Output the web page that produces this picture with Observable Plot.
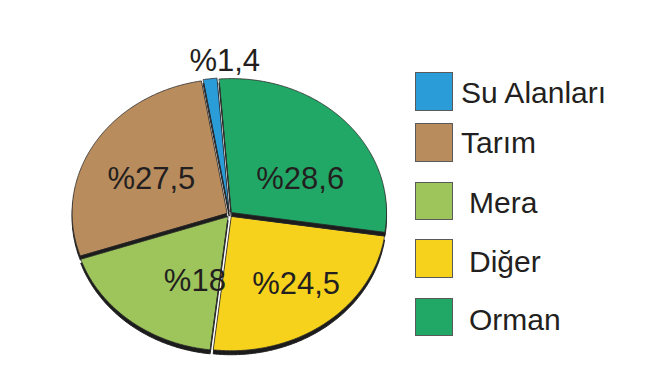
<!DOCTYPE html>
<html>
<head>
<meta charset="utf-8">
<script src="https://cdn.jsdelivr.net/npm/d3@7"></script>
<script src="https://cdn.jsdelivr.net/npm/@observablehq/plot@0.6"></script>
<style>
  html, body { margin: 0; padding: 0; background: #fff; }
  #wrap { position: relative; width: 656px; height: 373px; overflow: hidden; font-family: "Liberation Sans", Arial, Helvetica, sans-serif; }
  #wrap svg { position: absolute; left: 0; top: 0; }
  .sw { position: absolute; box-sizing: border-box; border: 1px solid #5a5a5a; }
  .lb { position: absolute; font-size: 30px; line-height: 30px; color: #231f20; white-space: nowrap; }
</style>
</head>
<body>
<div id="wrap"></div>
<script>
// ---- data ----
const categories = ["Su Alanları", "Tarım", "Mera", "Diğer", "Orman"];
const values = [1.4, 27.5, 18, 24.5, 28.6];
const colors = ["#2a9dd8", "#b98c5e", "#9dc55b", "#f6d21c", "#22a866"];

// ---- layout (not data) ----
const rotation = -4.5 * Math.PI / 180;   // start angle offset
const explode = 2.8;                     // px pulled out along bisector
const labelRadius = [1.15, 0.58, 0.58, 0.58, 0.58];
const labelNudge = [[17, 0], [-1, 5], [22, 6], [12, 8], [5, 18]];
const legendTops = [72, 123, 181.5, 239, 297.5];
const legendLabelX = [461, 461, 469, 469, 469];
const legendBaselines = [103, 153, 213, 272, 330];

const rows = categories.map((name, i) => ({name, value: values[i], color: colors[i]}));

// counter-clockwise from 12 o'clock, in legend order
const arcs = d3.pie().sort(null).value(d => d.value)
  .startAngle(rotation).endAngle(rotation - 2 * Math.PI)(rows);

function slicePoints(a) {
  const a0 = a.startAngle, a1 = a.endAngle;
  const n = Math.max(2, Math.ceil(Math.abs(a1 - a0) / (Math.PI / 360)));
  const pts = [{x: 0, y: 0}];
  for (let k = 0; k <= n; k++) {
    const t = a0 + (a1 - a0) * k / n;
    pts.push({x: Math.sin(t), y: Math.cos(t)});
  }
  return pts;
}

const fmt = v => "%" + String(v).replace(".", ",");

const marks = [];
// shadows
arcs.forEach(a => {
  const mid = (a.startAngle + a.endAngle) / 2;
  const ex = explode * Math.sin(mid), ey = -explode * Math.cos(mid);
  marks.push(Plot.line(slicePoints(a), {
    x: "x", y: "y", curve: "linear-closed",
    fill: "#1c1c1c", stroke: "#1c1c1c", strokeWidth: 1,
    dx: ex, dy: ey + 4
  }));
});
// slices
arcs.forEach(a => {
  const mid = (a.startAngle + a.endAngle) / 2;
  const ex = explode * Math.sin(mid), ey = -explode * Math.cos(mid);
  marks.push(Plot.line(slicePoints(a), {
    x: "x", y: "y", curve: "linear-closed",
    fill: a.data.color, stroke: "#2a2a2a", strokeWidth: 0.8,
    dx: ex, dy: ey
  }));
});
// value labels
arcs.forEach((a, i) => {
  const mid = (a.startAngle + a.endAngle) / 2;
  const r = labelRadius[i];
  marks.push(Plot.text([a], {
    x: () => r * Math.sin(mid), y: () => r * Math.cos(mid),
    text: d => fmt(d.data.value),
    fontSize: 31, fill: "#231f20",
    fontFamily: "Liberation Sans, Arial, Helvetica, sans-serif",
    dx: labelNudge[i][0], dy: labelNudge[i][1]
  }));
});

const chart = Plot.plot({
  width: 656, height: 373,
  marginTop: 0, marginRight: 0, marginBottom: 0, marginLeft: 0,
  x: {domain: [-1, 1], range: [74, 384], axis: null},
  y: {domain: [-1, 1], range: [348, 80], axis: null},
  style: {background: "transparent", overflow: "visible"},
  marks
});

const wrap = document.getElementById("wrap");
wrap.appendChild(chart);

// legend
rows.forEach((d, i) => {
  const sw = document.createElement("div");
  sw.className = "sw";
  sw.style.left = "415px";
  sw.style.top = legendTops[i] + "px";
  sw.style.width = "37.5px";
  sw.style.height = "38.5px";
  sw.style.background = d.color;
  wrap.appendChild(sw);
  const lb = document.createElement("div");
  lb.className = "lb";
  lb.style.left = legendLabelX[i] + "px";
  lb.style.top = (legendBaselines[i] - 25.4) + "px";
  lb.textContent = d.name;
  wrap.appendChild(lb);
});
</script>
</body>
</html>
